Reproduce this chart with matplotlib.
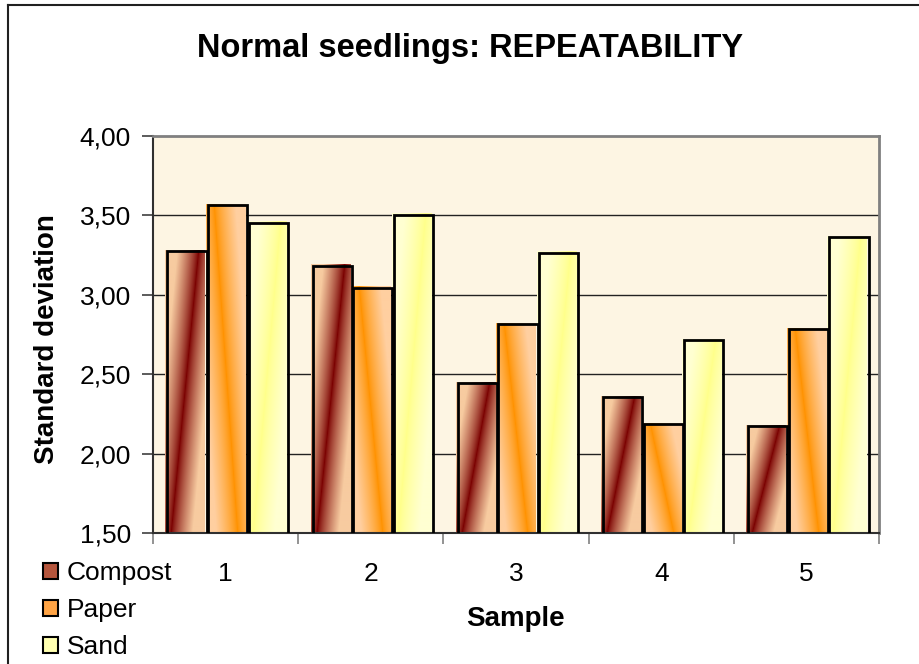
import numpy as np
import matplotlib
matplotlib.use("Agg")
import matplotlib.pyplot as plt
import matplotlib.transforms as mtransforms
from matplotlib.colors import to_rgb
from matplotlib.patches import Patch
from matplotlib.lines import Line2D

plt.rcParams['font.family'] = ['Liberation Sans', 'DejaVu Sans']

# dados
samples = ['1', '2', '3', '4', '5']
compost = [3.28, 3.19, 2.45, 2.36, 2.18]
paper = [3.57, 3.05, 2.82, 2.19, 2.79]
sand = [3.46, 3.51, 3.27, 2.72, 3.37]
series_names = ['Compost', 'Paper', 'Sand']
yticks = [1.5, 2.0, 2.5, 3.0, 3.5, 4.0]
ytick_labels = ['1,50', '2,00', '2,50', '3,00', '3,50', '4,00']

# cores do degradê: (base, faixa, direção da faixa)
gradients = {
    'Compost': ('#f7cba0', '#7a0000', 1),
    'Paper': ('#ffcfa0', '#ff9200', -1),
    'Sand': ('#ffffd2', '#ffff8a', 1),
}
legend_colors = {'Compost': '#b4553c', 'Paper': '#ffa445', 'Sand': '#ffffb0'}


def gradient_image(base, stripe, direction, n=120):
    yy, xx = np.mgrid[0:1:n * 1j, 0:1:40j]
    if direction > 0:
        center = 0.15 + 0.7 * yy
    else:
        center = 0.2 + 0.6 * (1 - yy)
    d = np.clip(np.abs(xx - center) / 0.55, 0, 1) ** 0.8
    b = np.array(to_rgb(base))
    s = np.array(to_rgb(stripe))
    return s[None, None, :] * (1 - d[..., None]) + b[None, None, :] * d[..., None]


fig = plt.figure(figsize=(9.19, 6.64), dpi=100)
ax = fig.add_axes([153 / 919, 1 - 533 / 664, (879 - 153) / 919, (533 - 136) / 664])
ax.set_facecolor('#fdf5e3')

x = np.arange(len(samples))
width = 0.27
offset = 0.28
shadow = mtransforms.offset_copy(ax.transData, fig=fig, x=2, y=-1, units='dots')

for i, (name, vals) in enumerate(zip(series_names, [compost, paper, sand])):
    pos = x + (i - 1) * offset
    bars = ax.bar(pos, np.array(vals) - 1.5, width, bottom=1.5,
                  color='none', edgecolor='none', zorder=2)
    base, stripe, direction = gradients[name]
    img = gradient_image(base, stripe, direction)
    for b in bars:
        x0, y0 = b.get_x(), b.get_y()
        ax.imshow(img, extent=(x0, x0 + b.get_width(), y0, y0 + b.get_height()),
                  origin='lower', aspect='auto', zorder=2, interpolation='bilinear')
    # contorno preto levemente deslocado (efeito de sombra)
    ax.bar(pos, np.array(vals) - 1.5, width, bottom=1.5, color='none',
           edgecolor='black', linewidth=2, zorder=3, transform=shadow)

ax.set_xlim(-0.5, 4.5)
ax.set_ylim(1.5, 4.0)

for g in [2.0, 2.5, 3.0, 3.5]:
    ax.axhline(g, color='#222222', linewidth=1, zorder=1)

ax.set_yticks(yticks)
ax.set_yticklabels(ytick_labels, fontsize=19)
ax.tick_params(axis='y', direction='out', length=8, width=1.2, color='#404040', pad=8)

ax.set_xticks(x)
ax.set_xticklabels(samples, fontsize=19)
ax.set_xticks(np.arange(-0.5, 5.0, 1.0), minor=True)
ax.tick_params(axis='x', which='major', length=0, pad=21)
ax.tick_params(axis='x', which='minor', direction='out', length=8, width=1.2, color='#808080')

ax.spines['left'].set_color('#303030')
ax.spines['left'].set_linewidth(1.5)
ax.spines['bottom'].set_color('#303030')
ax.spines['bottom'].set_linewidth(1.5)
ax.spines['top'].set_color('#808080')
ax.spines['top'].set_linewidth(2)
ax.spines['right'].set_color('#808080')
ax.spines['right'].set_linewidth(2)

fig.text(0.512, 1 - 48 / 664, 'Normal seedlings: REPEATABILITY', fontsize=23.5,
         fontweight='bold', ha='center', va='center')
fig.text(47 / 919, 1 - 339 / 664, 'Standard deviation', fontsize=20,
         fontweight='bold', rotation=90, ha='center', va='center')
fig.text(515 / 919, 1 - 619 / 664, 'Sample', fontsize=20, fontweight='bold',
         ha='center', va='center')

handles = [Patch(facecolor=legend_colors[n], edgecolor='black', linewidth=1.5)
           for n in series_names]
fig.legend(handles, series_names, loc='upper left',
           bbox_to_anchor=(43 / 919, 1 - 561 / 664), frameon=False, fontsize=19,
           handlelength=0.55, handleheight=0.55, handletextpad=0.35,
           labelspacing=0.5, borderpad=0, borderaxespad=0)

# moldura do gráfico (só aparecem a esquerda e o topo)
fig.add_artist(Line2D([8 / 919, 8 / 919], [0, 1 - 5 / 664], color='#202020', linewidth=1.5))
fig.add_artist(Line2D([8 / 919, 1], [1 - 5 / 664, 1 - 5 / 664], color='#202020', linewidth=1.5))

fig.savefig('out.png', dpi=100)
